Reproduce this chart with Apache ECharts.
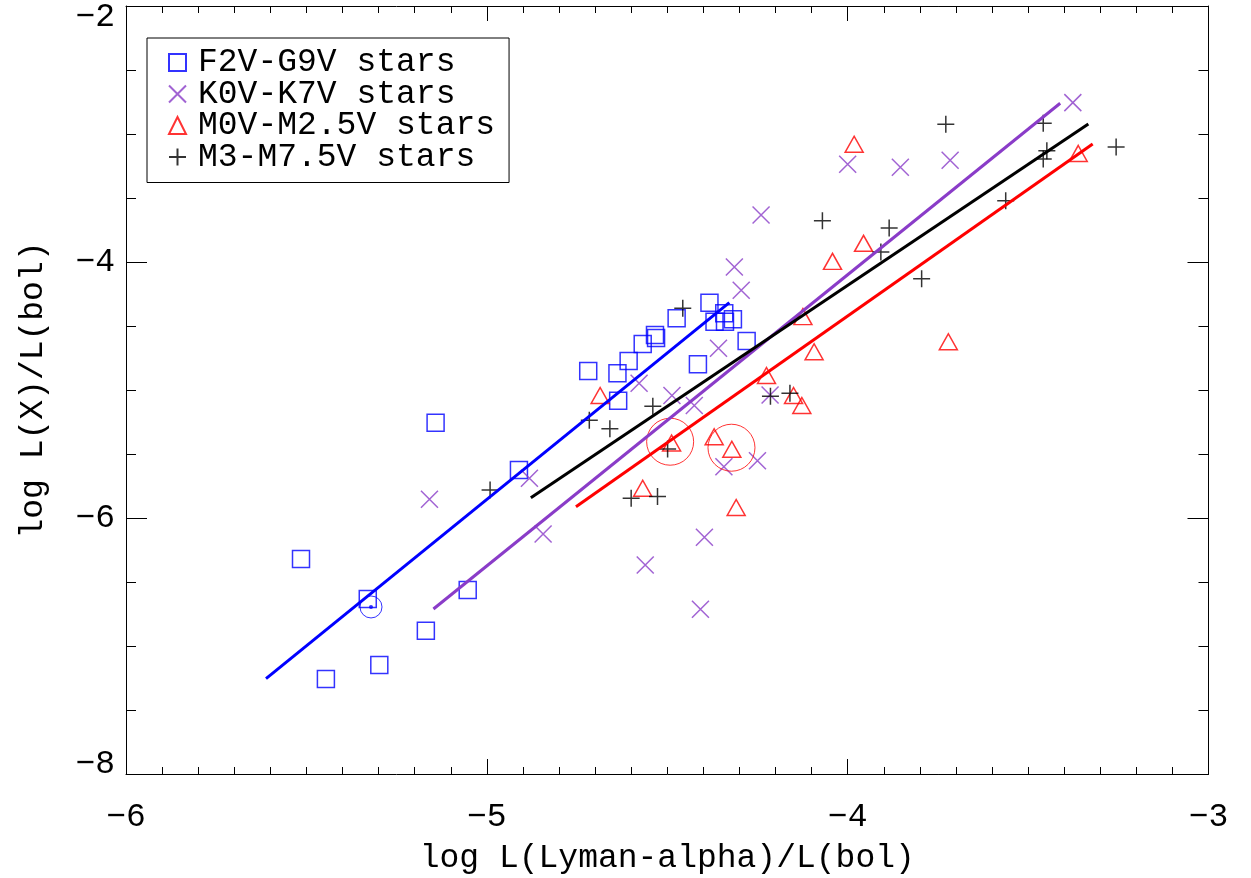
<!DOCTYPE html>
<html>
<head>
<meta charset="utf-8">
<script src="https://cdn.jsdelivr.net/npm/echarts@6/dist/echarts.min.js"></script>
<style>
html,body{margin:0;padding:0;background:#fff;}
#chart{width:1251px;height:878px;}
</style>
</head>
<body>
<div id="chart"></div>
<script>
// ---- data (log L(Lyman-alpha)/L(bol), log L(X)/L(bol)) ----
const seriesNames = ['F2V-G9V stars', 'K0V-K7V stars', 'M0V-M2.5V stars', 'M3-M7.5V stars'];
const xTitle = 'log L(Lyman-alpha)/L(bol)';
const yTitle = 'log L(X)/L(bol)';
const xRange = [-6, -3];
const yRange = [-8, -2];

const fgStars = [[-5.515,-6.320],[-5.446,-7.258],[-5.330,-6.633],[-5.298,-7.148],[-5.169,-6.880],
  [-5.142,-5.255],[-5.053,-6.563],[-4.911,-5.625],[-4.719,-4.852],[-4.638,-4.870],[-4.636,-5.084],
  [-4.607,-4.773],[-4.568,-4.641],[-4.534,-4.570],[-4.531,-4.594],[-4.474,-4.440],[-4.415,-4.799],
  [-4.383,-4.318],[-4.369,-4.466],[-4.342,-4.401],[-4.340,-4.466],[-4.318,-4.448],[-4.280,-4.617]];

const kStars = [[-5.159,-5.854],[-4.882,-5.690],[-4.844,-6.125],[-4.578,-4.948],[-4.487,-5.043],
  [-4.425,-5.121],[-4.358,-4.674],[-4.314,-4.039],[-4.295,-4.221],[-4.240,-3.633],[-4.343,-5.599],
  [-4.250,-5.553],[-4.215,-5.039],[-4.397,-6.151],[-4.561,-6.367],[-4.408,-6.713],[-4.000,-3.237],
  [-3.854,-3.260],[-3.716,-3.205],[-3.376,-2.755]];

const earlyMStars = [[-4.686,-5.043],[-4.124,-4.427],[-4.093,-4.701],[-4.225,-4.887],[-4.150,-5.043],
  [-4.127,-5.121],[-4.488,-5.414],[-4.370,-5.365],[-4.321,-5.463],[-4.568,-5.768],[-4.309,-5.918],
  [-4.042,-3.995],[-3.956,-3.854],[-3.982,-3.080],[-3.721,-4.623],[-3.361,-3.152]];

const lateMStars = [[-4.991,-5.781],[-4.716,-5.237],[-4.659,-5.303],[-4.540,-5.127],[-4.499,-5.461],
  [-4.600,-5.846],[-4.527,-5.832],[-4.457,-4.362],[-4.214,-5.049],[-4.160,-5.026],[-4.070,-3.677],
  [-3.885,-3.734],[-3.908,-3.922],[-3.795,-4.130],[-3.728,-2.924],[-3.458,-2.916],[-3.448,-3.130],
  [-3.458,-3.195],[-3.562,-3.521],[-3.256,-3.102]];

const sunPoint = [[-5.321,-6.695]];
const circledStars = [[-4.492,-5.404],[-4.322,-5.451]];

const fitFG = [[-5.612,-7.255],[-4.328,-4.318]];
const fitK = [[-5.148,-6.711],[-3.411,-2.760]];
const fitEarlyM = [[-4.753,-5.912],[-3.321,-3.078]];
const fitLateM = [[-4.878,-5.841],[-3.333,-2.922]];

// ---- styling ----
const BLUE = '#0000ff', PURPLE = '#8a3cc8', RED = '#ff0000', BLACK = '#000000';
const FONT = 'Liberation Mono';
const X_SYM = 'path://M0,0L10,10M10,0L0,10';
const PLUS_SYM = 'path://M5,0L5,10M0,5L10,5';
const minus = v => (v < 0 ? '\u2212' : '') + Math.abs(v);

function scatter(name, data, symbol, size, color, bw) {
  return {
    name, type: 'scatter', data, symbol, symbolSize: size,
    itemStyle: { color: 'transparent', borderColor: color, borderWidth: bw },
    emphasis: { disabled: true }, z: 2
  };
}
function fit(data, color) {
  return {
    type: 'line', data, showSymbol: false, symbol: 'none',
    lineStyle: { color, width: 3 }, z: 3, silent: true
  };
}

const chart = echarts.init(document.getElementById('chart'), null, { renderer: 'canvas' });

const tickLabelStyle = { fontFamily: FONT, fontSize: 33, color: '#000' };

chart.setOption({
  animation: false,
  backgroundColor: '#fff',
  grid: { left: 126, right: 42.5, top: 6, bottom: 104, containLabel: false, outerBoundsMode: 'none' },
  legend: {
    data: seriesNames,
    orient: 'vertical', left: 147, top: 38,
    padding: [8, 14, 9, 21],
    borderColor: '#000', borderWidth: 1, backgroundColor: '#fff',
    itemWidth: 17, itemHeight: 17, itemGap: -1.5,
    textStyle: { fontFamily: FONT, fontSize: 33, color: '#000', lineHeight: 30, padding: [0, 0, 0, 7] },
    selectedMode: false
  },
  xAxis: [{
    type: 'value', min: xRange[0], max: xRange[1], interval: 1, position: 'bottom',
    name: xTitle, nameLocation: 'middle', nameGap: 68, nameMoveOverlap: false,
    nameTextStyle: { fontFamily: FONT, fontSize: 33, color: '#000' },
    axisLine: { show: true, onZero: false, lineStyle: { color: '#000', width: 1 } },
    axisTick: { show: true, inside: true, length: 15, lineStyle: { color: '#000' } },
    minorTick: { show: true, splitNumber: 10, length: 7, lineStyle: { color: '#000' } },
    axisLabel: Object.assign({ margin: 27, formatter: minus }, tickLabelStyle),
    splitLine: { show: false }
  }, {
    type: 'value', min: xRange[0], max: xRange[1], interval: 1, position: 'top',
    axisLine: { show: true, onZero: false, lineStyle: { color: '#000', width: 1 } },
    axisTick: { show: true, inside: true, length: 15, lineStyle: { color: '#000' } },
    minorTick: { show: true, splitNumber: 10, length: 7, lineStyle: { color: '#000' } },
    axisLabel: { show: false }, splitLine: { show: false }
  }],
  yAxis: [{
    type: 'value', min: yRange[0], max: yRange[1], interval: 2, position: 'left',
    name: yTitle, nameLocation: 'middle', nameGap: 76, nameRotate: 90, nameMoveOverlap: false,
    nameTextStyle: { fontFamily: FONT, fontSize: 33, color: '#000' },
    axisLine: { show: true, onZero: false, lineStyle: { color: '#000', width: 1 } },
    axisTick: { show: true, inside: true, length: 21, lineStyle: { color: '#000' } },
    minorTick: { show: true, splitNumber: 4, length: 10, lineStyle: { color: '#000' } },
    axisLabel: Object.assign({
      margin: 11,
      formatter: v => {
        const s = minus(v);
        if (v === yRange[1]) return '{top|' + s + '}';
        if (v === yRange[0]) return '{bot|' + s + '}';
        return s;
      },
      rich: {
        top: { fontFamily: FONT, fontSize: 33, color: '#000', padding: [23, 0, 0, 0] },
        bot: { fontFamily: FONT, fontSize: 33, color: '#000', padding: [0, 0, 20, 0] }
      }
    }, tickLabelStyle),
    splitLine: { show: false }
  }, {
    type: 'value', min: yRange[0], max: yRange[1], interval: 2, position: 'right',
    axisLine: { show: true, onZero: false, lineStyle: { color: '#000', width: 1 } },
    axisTick: { show: true, inside: true, length: 21, lineStyle: { color: '#000' } },
    minorTick: { show: true, splitNumber: 4, length: 10, lineStyle: { color: '#000' } },
    axisLabel: { show: false }, splitLine: { show: false }
  }],
  series: [
    scatter(seriesNames[0], fgStars, 'rect', 17, BLUE, 1.5),
    scatter(seriesNames[1], kStars, X_SYM, 17, PURPLE, 1.5),
    scatter(seriesNames[2], earlyMStars, 'triangle', [18, 16], RED, 1.5),
    scatter(seriesNames[3], lateMStars, PLUS_SYM, 17, BLACK, 1.5),
    scatter('Sun', sunPoint, 'circle', 22, BLUE, 1),
    { type: 'scatter', data: sunPoint, symbol: 'circle', symbolSize: 4, itemStyle: { color: BLUE }, z: 2, silent: true },
    scatter('circled', circledStars, 'circle', 47, RED, 1),
    fit(fitFG, BLUE),
    fit(fitK, PURPLE),
    fit(fitEarlyM, RED),
    fit(fitLateM, BLACK)
  ]
});
</script>
</body>
</html>
